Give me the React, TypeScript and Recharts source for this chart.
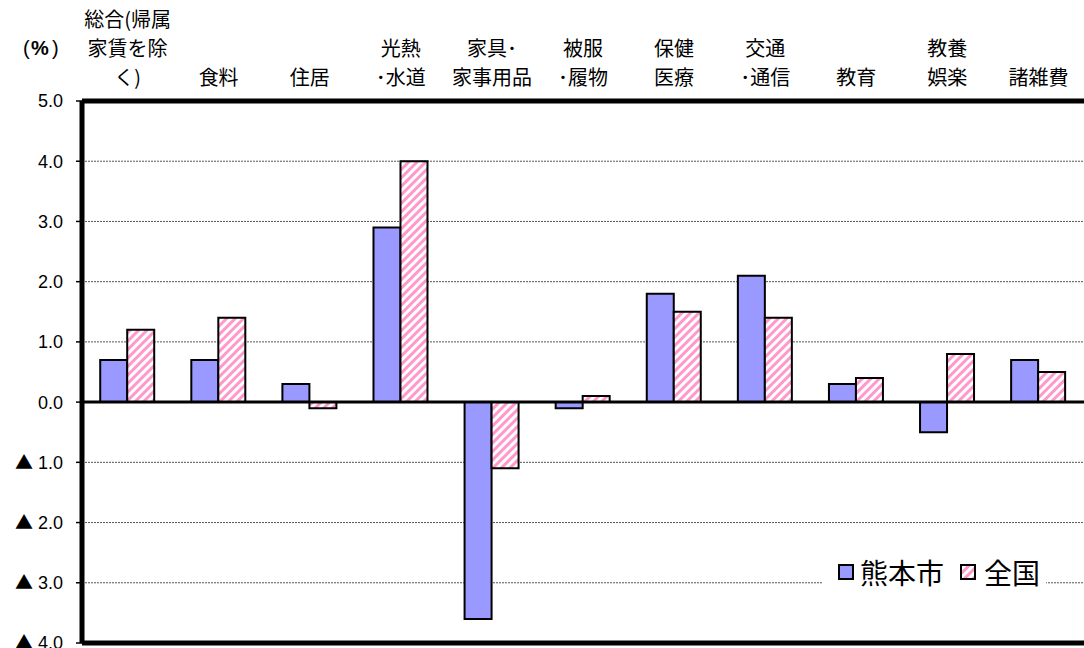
import { BarChart, Bar, XAxis, YAxis, CartesianGrid, ReferenceLine } from 'recharts';

const categories = [
  '総合(帰属家賃を除く)',
  '食料',
  '住居',
  '光熱・水道',
  '家具・家事用品',
  '被服・履物',
  '保健医療',
  '交通・通信',
  '教育',
  '教養娯楽',
  '諸雑費'
];

const tickLines = [
  ['総合(帰属', '家賃を除', 'く)'],
  ['食料'],
  ['住居'],
  ['光熱', '･水道'],
  ['家具･', '家事用品'],
  ['被服', '･履物'],
  ['保健', '医療'],
  ['交通', '･通信'],
  ['教育'],
  ['教養', '娯楽'],
  ['諸雑費']
];

const kumamoto = [0.7, 0.7, 0.3, 2.9, -3.6, -0.1, 1.8, 2.1, 0.3, -0.5, 0.7];
const national = [1.2, 1.4, -0.1, 4.0, -1.1, 0.1, 1.5, 1.4, 0.4, 0.8, 0.5];

const yTicks = [5, 4, 3, 2, 1, 0, -1, -2, -3, -4];

const data = categories.map((name, i) => ({
  name,
  kumamoto: kumamoto[i],
  national: national[i]
}));

const JP_FONT = '"Noto Sans CJK JP", sans-serif';
const NUM_FONT = '"Liberation Sans", Arial, sans-serif';
const BLUE = '#9999FF';
const PINK = '#FF99CC';

const TopTick = (props: any) => {
  const { x, payload } = props;
  const lines = tickLines[categories.indexOf(payload.value)] || [payload.value];
  const baseY = 85;
  return (
    <g>
      {lines.map((line: string, i: number) => (
        <text
          key={i}
          x={x}
          y={baseY - (lines.length - 1 - i) * 29}
          textAnchor="middle"
          fontSize={20}
          fontFamily={JP_FONT}
          fill="#000"
        >
          {line}
        </text>
      ))}
    </g>
  );
};

const LeftTick = (props: any) => {
  const { x, y, payload } = props;
  const v = payload.value as number;
  return (
    <text x={x} y={y} dy="0.36em" textAnchor="end" fontSize={18} fontFamily={NUM_FONT} fill="#000">
      {v < 0 && <tspan fontFamily={JP_FONT}>▲</tspan>}
      {v < 0 ? ` ${Math.abs(v).toFixed(1)}` : v.toFixed(1)}
    </text>
  );
};

export default function App() {
  return (
    <div style={{ position: 'absolute', left: 0, top: 0, width: 1084, height: 648, background: '#fff', overflow: 'hidden' }}>
      <BarChart
        width={1084}
        height={648}
        data={data}
        margin={{ top: 0, right: 0, bottom: 5, left: 0 }}
        barCategoryGap="20%"
        barGap={0}
      >
        <defs>
          <pattern id="hatch" width={6} height={6} patternUnits="userSpaceOnUse" patternTransform="rotate(45)">
            <rect x={0} y={0} width={6} height={6} fill="#fff" />
            <rect x={0} y={0} width={3} height={6} fill={PINK} />
          </pattern>
        </defs>
        <CartesianGrid vertical={false} stroke="#555" strokeDasharray="2 1" />
        <XAxis
          dataKey="name"
          orientation="top"
          height={101}
          interval={0}
          tick={<TopTick />}
          tickLine={false}
          axisLine={{ stroke: '#000', strokeWidth: 5 }}
        />
        <YAxis
          width={82}
          domain={[-4, 5]}
          ticks={yTicks}
          interval={0}
          tick={<LeftTick />}
          tickSize={6}
          tickMargin={13}
          tickLine={{ stroke: '#000', strokeWidth: 1.5 }}
          axisLine={{ stroke: '#000', strokeWidth: 5 }}
          allowDataOverflow
        />
        <Bar dataKey="kumamoto" name="熊本市" fill={BLUE} stroke="#000" strokeWidth={2} isAnimationActive={false} />
        <Bar dataKey="national" name="全国" fill="url(#hatch)" stroke="#000" strokeWidth={2} isAnimationActive={false} />
        <ReferenceLine y={0} stroke="#000" strokeWidth={3} />
        <ReferenceLine y={-4} stroke="#000" strokeWidth={5} />
        <text y={55} fontSize={20} fontFamily={NUM_FONT} fill="#000">
          <tspan x={23}>(</tspan>
          <tspan x={31} fontWeight="bold">%</tspan>
          <tspan x={52}>)</tspan>
        </text>
      </BarChart>
      <div
        style={{
          position: 'absolute',
          left: 823,
          top: 547,
          width: 223,
          height: 50,
          background: '#fff',
          display: 'flex',
          alignItems: 'center',
          fontFamily: JP_FONT,
          fontSize: 28,
          color: '#000'
        }}
      >
        <svg width={16} height={16} style={{ marginLeft: 15, marginRight: 6 }}>
          <rect x={1} y={1} width={14} height={14} fill={BLUE} stroke="#000" strokeWidth={2} />
        </svg>
        <span>熊本市</span>
        <svg width={16} height={16} style={{ marginLeft: 16, marginRight: 8 }}>
          <rect x={1} y={1} width={14} height={14} fill="url(#hatch)" stroke="#000" strokeWidth={2} />
        </svg>
        <span>全国</span>
      </div>
    </div>
  );
}
